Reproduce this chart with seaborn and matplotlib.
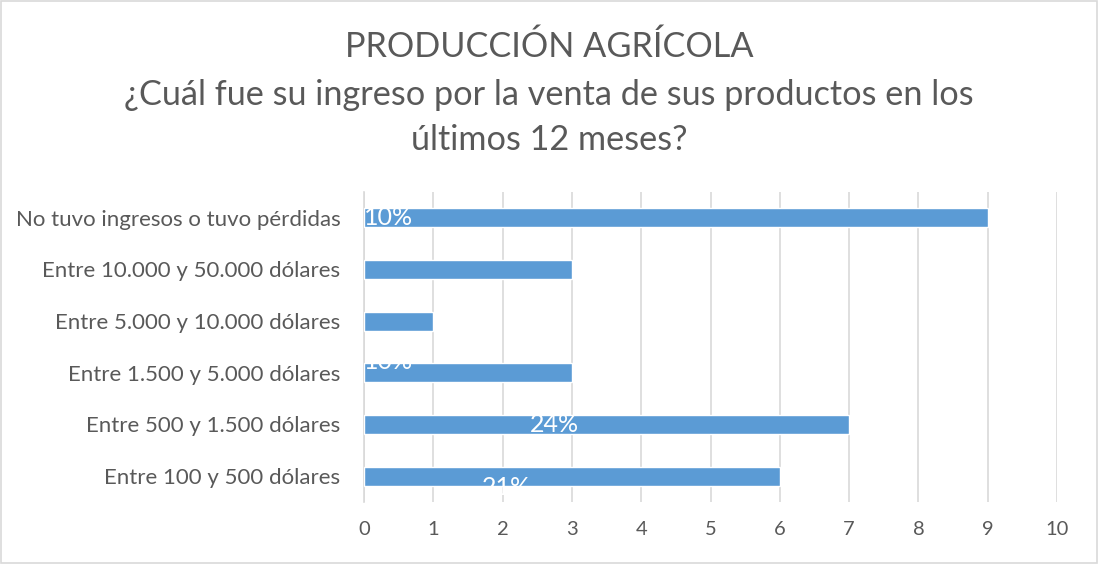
import matplotlib.pyplot as plt
import matplotlib.patches as mpatches
import pandas as pd
import seaborn as sns

# Data (top to bottom, as shown)
categories = ["No tuvo ingresos o tuvo pérdidas",
              "Entre 10.000 y 50.000 dólares",
              "Entre 5.000 y 10.000 dólares",
              "Entre 1.500 y 5.000 dólares",
              "Entre 500 y 1.500 dólares",
              "Entre 100 y 500 dólares"]
counts = [9, 3, 1, 3, 7, 6]
x_ticks = [0, 1, 2, 3, 4, 5, 6, 7, 8, 9, 10]

# stray white percentage labels from the original (category, x value, text)
pct_cats = ["No tuvo ingresos o tuvo pérdidas", "Entre 1.500 y 5.000 dólares",
            "Entre 500 y 1.500 dólares", "Entre 100 y 500 dólares"]
pct_x = [0.0, 0.0, 2.4, 1.7]
pct_text = ["10%", "10%", "24%", "21%"]

df = pd.DataFrame({"cat": categories, "n": counts})

sns.set_style("white")
plt.rcParams['font.family'] = ['Lato', 'DejaVu Sans']

fig = plt.figure(figsize=(10.98, 5.64), dpi=100)
ax = fig.add_axes([0.3315, 0.110, 0.6312, 0.5496])

sns.barplot(data=df, x="n", y="cat", order=categories, color="#5B9BD5",
            saturation=1, width=0.37, ax=ax, zorder=3)

ax.set_xlim(0, 10)
ax.set_xticks(x_ticks)
ax.set_ylim(5.5, -0.5)
ax.grid(axis="x", color="#D9D9D9", linewidth=1.2, zorder=0)
ax.set_axisbelow(True)
for s in ["top", "right", "bottom"]:
    ax.spines[s].set_visible(False)
ax.spines["left"].set_color("#D9D9D9")
ax.spines["left"].set_linewidth(1.2)
ax.set_xlabel("")
ax.set_ylabel("")
ax.tick_params(axis="x", colors="#595959", labelsize=14.5, length=0, pad=14)
ax.tick_params(axis="y", colors="#595959", labelsize=16, length=0, pad=17)

# white data labels (partially hidden like the source)
pos = {c: i for i, c in enumerate(categories)}
offs = [0.0, -0.22, 0.0, 0.22]
for c, xv, t, o in zip(pct_cats, pct_x, pct_text, offs):
    ax.text(xv, pos[c] + o, t, color="white", fontsize=18, va="center",
            ha="left", zorder=5)

fig.text(0.5, 0.917, "PRODUCCIÓN AGRÍCOLA", ha="center", va="center",
         fontsize=24.7, color="#595959")
fig.text(0.5, 0.832, "¿Cuál fue su ingreso por la venta de sus productos en los",
         ha="center", va="center", fontsize=24.7, color="#595959")
fig.text(0.5, 0.752, "últimos 12 meses?", ha="center", va="center",
         fontsize=24.7, color="#595959")

fig.patches.append(mpatches.Rectangle((0.001, 0.001), 0.998, 0.997,
                                      transform=fig.transFigure, fill=False,
                                      edgecolor="#D9D9D9", linewidth=1.2))

fig.savefig("out.png", dpi=100)
